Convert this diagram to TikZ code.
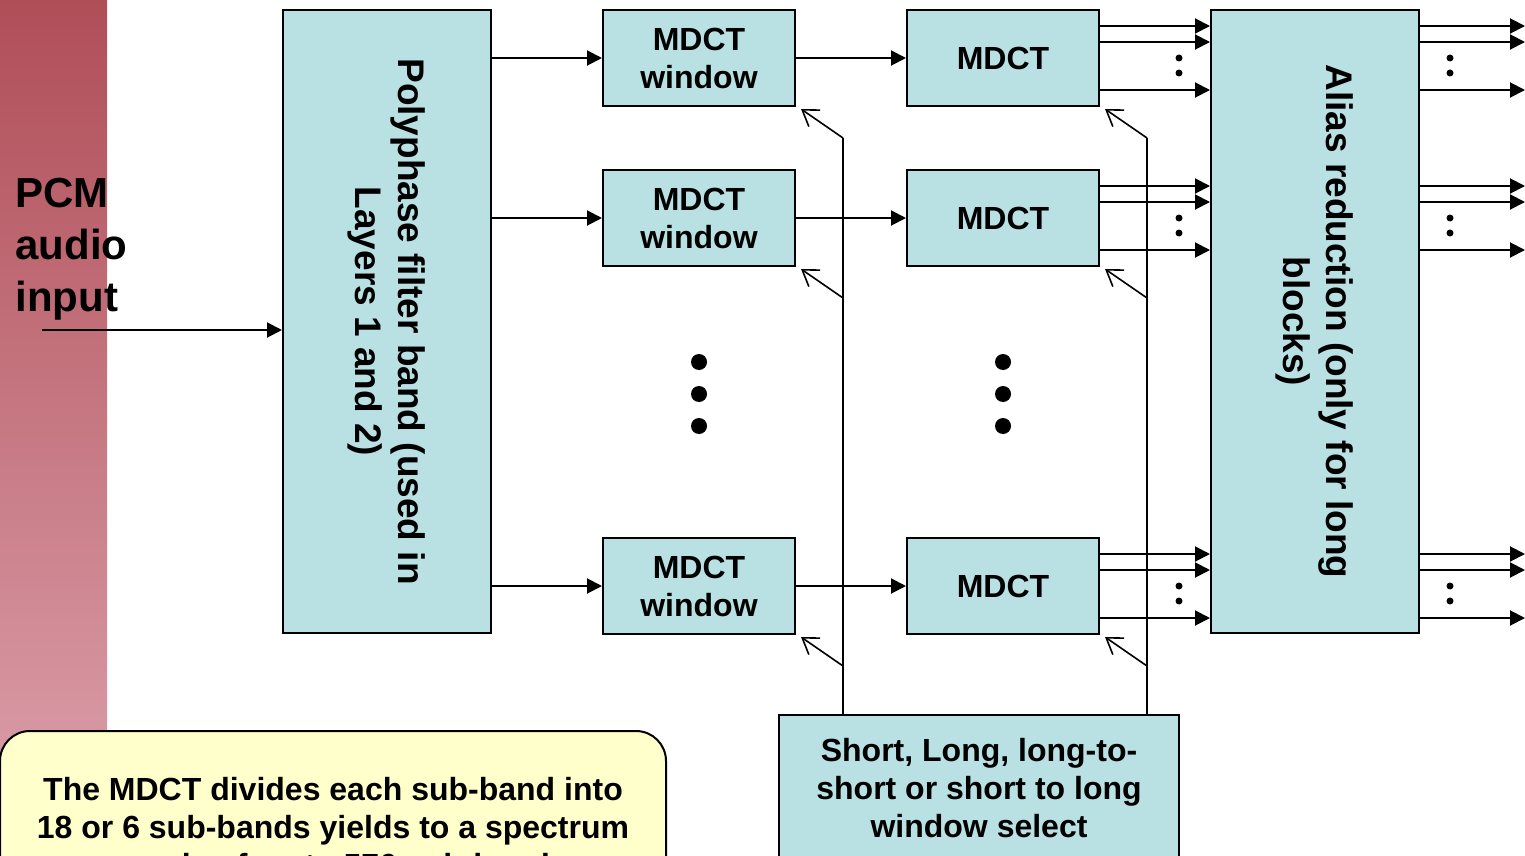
\documentclass[tikz,border=0pt]{standalone}
\usepackage{fontspec}
\setmainfont{Liberation Sans}
\usetikzlibrary{arrows.meta,calc}
\definecolor{boxc}{RGB}{185,224,227}
\definecolor{notec}{RGB}{255,255,204}
\definecolor{bartop}{RGB}{176,78,88}
\definecolor{barbot}{RGB}{221,163,174}
\begin{document}
\begin{tikzpicture}[x=0.5pt,y=-0.5pt,
  blk/.style={draw=black,line width=1pt,fill=boxc,inner sep=0pt,align=center,
    font=\bfseries\fontsize{16}{19}\selectfont},
  bigtxt/.style={font=\bfseries\fontsize{18.5}{21.5}\selectfont},
  arr/.style={line width=1pt,-{Triangle[length=7.5pt,width=7.5pt]}},
  selarr/.style={line width=0.8pt,-{Straight Barb[length=7.5pt,width=10pt]}},
  selline/.style={line width=1pt},
  bigdot/.style={fill=black},
  smalldot/.style={fill=black}]
\useasboundingbox (0,0) rectangle (1525,856);
\clip (0,0) rectangle (1525,856);
% left gradient bar
\shade[top color=bartop,bottom color=barbot] (0,0) rectangle (107,856);
% blocks
\node[blk,bigtxt,rotate=-90,minimum width=311.5pt,minimum height=104pt] (poly) at (387,321.5)
  {Polyphase filter band (used in\\Layers 1 and 2)};
\node[blk,minimum width=96pt,minimum height=48pt] (w1) at (699,58) {MDCT\\window};
\node[blk,minimum width=96pt,minimum height=48pt] (w2) at (699,218) {MDCT\\window};
\node[blk,minimum width=96pt,minimum height=48pt] (w3) at (699,586) {MDCT\\window};
\node[blk,minimum width=96pt,minimum height=48pt] (m1) at (1003,58) {MDCT};
\node[blk,minimum width=96pt,minimum height=48pt] (m2) at (1003,218) {MDCT};
\node[blk,minimum width=96pt,minimum height=48pt] (m3) at (1003,586) {MDCT};
\node[blk,bigtxt,rotate=-90,minimum width=311.5pt,minimum height=104pt] (al) at (1315,321.5)
  {Alias reduction (only for long\\blocks)};
\node[blk,minimum width=200pt,minimum height=73pt,anchor=north] (sl) at (979,714)
  {Short, Long, long-to-\\short or short to long\\window select};
\node[draw=black,line width=1pt,fill=notec,rounded corners=15pt,minimum width=333pt,
  minimum height=99pt,anchor=north,inner sep=0pt,align=center,
  font=\bfseries\fontsize{16}{19}\selectfont] (note) at (333,730)
  {The MDCT divides each sub-band into\\18 or 6 sub-bands yields to a spectrum\\sample of up to 576 sub-bands};
% input
\node[anchor=west,align=left,inner sep=0pt,font=\bfseries\fontsize{21}{26}\selectfont] (pcm) at (15,249)
  {PCM\\audio\\input};
\coordinate (in) at (42,330);
\draw[arr] (in) -- (in -| poly.south);
% polyphase -> windows -> MDCT
\foreach \i in {1,2,3}{
  \draw[arr] (w\i -| poly.north) -- (w\i.west);
  \draw[arr] (w\i.east) -- (m\i.west);
}
% MDCT -> alias -> out
\coordinate (edge) at (1525,0);
\foreach \i in {1,2,3}{
  \foreach \s in {16pt,8pt,-16pt}{
    \draw[arr] ([yshift=\s]m\i.east) -- ([yshift=\s]m\i.east -| al.south);
    \draw[arr] ([yshift=\s]m\i.east -| al.north) -- ([yshift=\s]m\i.east -| edge);
  }
}
\foreach \y in {0,160,528}{
  \fill[smalldot] (1179,58+\y) circle (1.75pt);
  \fill[smalldot] (1179,73+\y) circle (1.75pt);
  \fill[smalldot] (1450,58+\y) circle (1.75pt);
  \fill[smalldot] (1450,73+\y) circle (1.75pt);
}
% big dots
\foreach \x in {699,1003}{
  \foreach \y in {362,394,426}{
    \fill[bigdot] (\x,\y) circle (4pt);
  }
}
% window select lines
\coordinate (ta) at (843,138);
\coordinate (tb) at (1147,138);
\draw[selline] (ta |- sl.north) -- (ta);
\draw[selline] (tb |- sl.north) -- (tb);
\foreach \i/\y in {1/138,2/298,3/666}{
  \draw[selarr] (843,\y) -- ([xshift=2.5pt,yshift=-1pt]w\i.south east);
  \draw[selarr] (1147,\y) -- ([xshift=2.5pt,yshift=-1pt]m\i.south east);
}
\end{tikzpicture}
\end{document}
